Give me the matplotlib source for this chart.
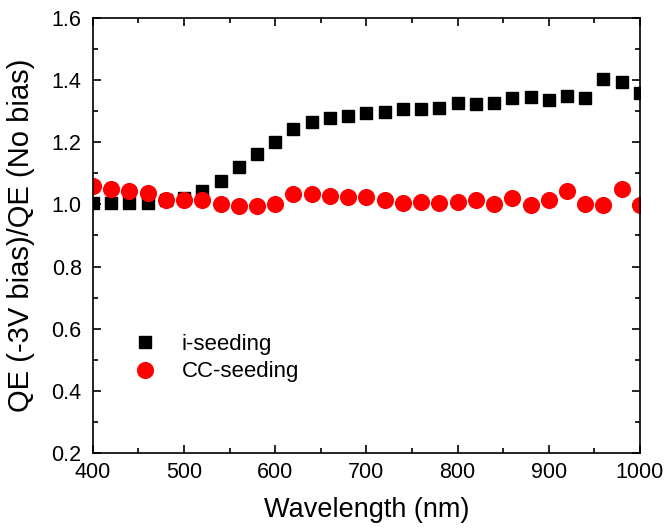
import matplotlib
matplotlib.use("Agg")
import matplotlib.pyplot as plt
from matplotlib.ticker import MultipleLocator, FormatStrFormatter

plt.rcParams['font.family'] = ['Liberation Sans', 'DejaVu Sans']

wavelength = list(range(400, 1001, 20))
i_seeding = [1.006, 1.006, 1.006, 1.006, 1.014, 1.020, 1.044, 1.076, 1.119, 1.162,
             1.202, 1.242, 1.264, 1.277, 1.285, 1.293, 1.296, 1.306, 1.307, 1.311,
             1.325, 1.322, 1.325, 1.342, 1.345, 1.336, 1.350, 1.342, 1.404, 1.395,
             1.358]
cc_seeding = [1.059, 1.050, 1.044, 1.036, 1.014, 1.014, 1.014, 1.001, 0.995, 0.995,
              1.001, 1.034, 1.034, 1.028, 1.025, 1.025, 1.014, 1.006, 1.009, 1.004,
              1.009, 1.014, 1.000, 1.020, 0.998, 1.014, 1.044, 1.000, 0.998, 1.049,
              0.998]

fig = plt.figure(figsize=(6.68, 5.31), dpi=100)
ax = fig.add_axes([0.139, 0.147, 0.819, 0.819])

ax.plot(wavelength, i_seeding, linestyle='none', marker='s', markersize=9.2,
        color='black', label='i-seeding')
ax.plot(wavelength, cc_seeding, linestyle='none', marker='o', markersize=11.3,
        color='#ff0000', label='CC-seeding')

ax.set_xlim(400, 1000)
ax.set_ylim(0.2, 1.6)
ax.xaxis.set_major_locator(MultipleLocator(100))
ax.xaxis.set_minor_locator(MultipleLocator(50))
ax.yaxis.set_major_locator(MultipleLocator(0.2))
ax.yaxis.set_minor_locator(MultipleLocator(0.1))
ax.yaxis.set_major_formatter(FormatStrFormatter('%.1f'))
ax.tick_params(which='both', direction='in', top=True, right=True, labelsize=15.5, width=1.2)
ax.tick_params(which='major', length=6)
ax.tick_params(which='minor', length=3.6)
ax.tick_params(axis='y', pad=8)
ax.tick_params(axis='x', pad=6.5)
for s in ax.spines.values():
    s.set_linewidth(1.2)

ax.set_xlabel('Wavelength (nm)', fontsize=19.5, labelpad=10)
ax.set_ylabel('QE (-3V bias)/QE (No bias)', fontsize=21, labelpad=12)

ax.legend(loc='upper left', bbox_to_anchor=(0.075, 0.274), frameon=False, fontsize=16,
          handlelength=1.0, handletextpad=1.15, labelspacing=0.3,
          borderpad=0, borderaxespad=0, markerscale=1.0)

fig.savefig('out.png', dpi=100)
